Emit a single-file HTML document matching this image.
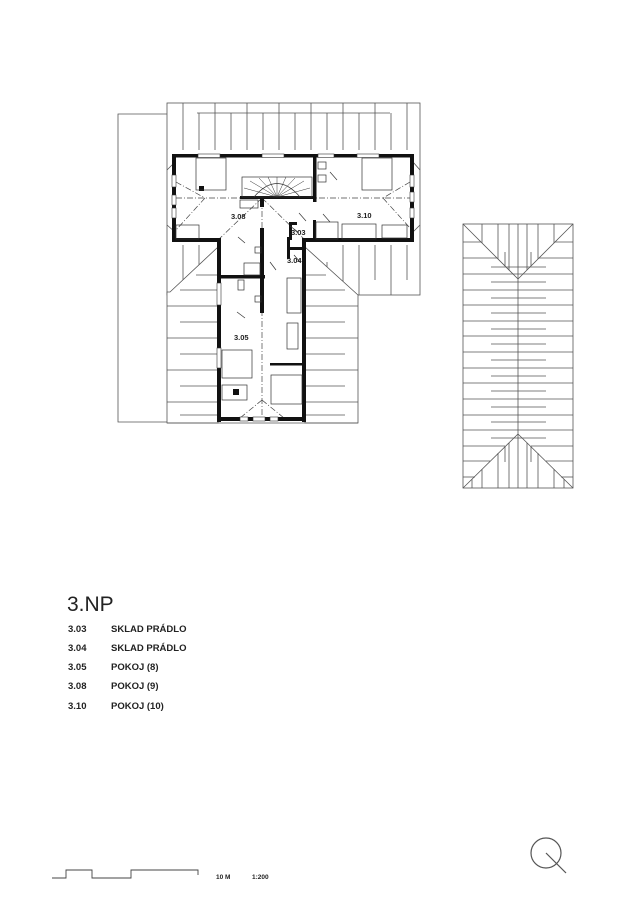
<!DOCTYPE html>
<html><head><meta charset="utf-8"><style>
html,body{margin:0;padding:0;background:#fff}
svg{display:block}
text{font-family:"Liberation Sans",sans-serif;fill:#222}
</style></head><body>
<svg width="635" height="917" viewBox="0 0 635 917" xmlns="http://www.w3.org/2000/svg">
<g fill="none" stroke="#555" stroke-width="0.8">
<polyline points="167,114 118,114 118,422 167,422"/>
<rect x="167" y="103" width="253" height="192"/>
<line x1="197" y1="113" x2="390" y2="113"/>
<g>
<line x1="183" y1="103" x2="183" y2="150"/><line x1="199" y1="113" x2="199" y2="150"/><line x1="215" y1="103" x2="215" y2="150"/><line x1="231" y1="113" x2="231" y2="150"/><line x1="247" y1="103" x2="247" y2="150"/><line x1="263" y1="113" x2="263" y2="150"/><line x1="279" y1="103" x2="279" y2="150"/><line x1="295" y1="113" x2="295" y2="150"/><line x1="311" y1="103" x2="311" y2="150"/><line x1="327" y1="113" x2="327" y2="150"/><line x1="343" y1="103" x2="343" y2="150"/><line x1="359" y1="113" x2="359" y2="150"/><line x1="375" y1="103" x2="375" y2="150"/><line x1="391" y1="113" x2="391" y2="150"/><line x1="407" y1="103" x2="407" y2="150"/>
</g>
<line x1="183" y1="245" x2="183" y2="280"/><line x1="199" y1="245" x2="199" y2="265"/>
<line x1="327" y1="262" x2="327" y2="295"/><line x1="343" y1="245" x2="343" y2="285"/><line x1="359" y1="245" x2="359" y2="295"/><line x1="375" y1="245" x2="375" y2="280"/><line x1="391" y1="245" x2="391" y2="295"/><line x1="407" y1="245" x2="407" y2="280"/>
<line x1="167" y1="225" x2="175" y2="232"/><line x1="413" y1="232" x2="420" y2="225"/>
<line x1="167" y1="170" x2="175" y2="162"/><line x1="413" y1="162" x2="420" y2="170"/>
<polygon points="170,292 218,247 218,423 167,423 167,292" fill="#fff"/>
<polygon points="305,247 358,295 358,423 305,423" fill="#fff"/>
<line x1="167" y1="423" x2="358" y2="423"/>
<g>
<line x1="196" y1="275" x2="217" y2="275"/><line x1="180" y1="290" x2="217" y2="290"/>
<line x1="167" y1="306" x2="217" y2="306"/><line x1="180" y1="322" x2="217" y2="322"/><line x1="167" y1="338" x2="217" y2="338"/><line x1="180" y1="354" x2="217" y2="354"/><line x1="167" y1="370" x2="217" y2="370"/><line x1="180" y1="386" x2="217" y2="386"/><line x1="167" y1="402" x2="217" y2="402"/><line x1="180" y1="415" x2="217" y2="415"/>
<line x1="306" y1="275" x2="326" y2="275"/><line x1="306" y1="290" x2="345" y2="290"/>
<line x1="306" y1="306" x2="358" y2="306"/><line x1="306" y1="322" x2="345" y2="322"/><line x1="306" y1="338" x2="358" y2="338"/><line x1="306" y1="354" x2="345" y2="354"/><line x1="306" y1="370" x2="358" y2="370"/><line x1="306" y1="386" x2="345" y2="386"/><line x1="306" y1="402" x2="358" y2="402"/><line x1="306" y1="415" x2="345" y2="415"/>
</g>
</g>
<g fill="#fff" stroke="none">
<rect x="172" y="155" width="242" height="87"/>
<rect x="217" y="240" width="89" height="180"/>
</g>
<g stroke="#444" stroke-width="0.7" stroke-dasharray="6,2,1,2" fill="none">
<line x1="176" y1="198" x2="410" y2="198"/>
<line x1="262" y1="200" x2="262" y2="418"/>
<line x1="176" y1="182" x2="205" y2="198"/><line x1="205" y1="198" x2="176" y2="230"/>
<line x1="410" y1="182" x2="383" y2="198"/><line x1="383" y1="198" x2="410" y2="228"/>
<line x1="262" y1="198" x2="218" y2="240"/><line x1="262" y1="198" x2="305" y2="240"/>
<line x1="262" y1="400" x2="240" y2="418"/><line x1="262" y1="400" x2="284" y2="418"/>
</g>
<g fill="#111" stroke="none">
<rect x="172" y="154" width="242" height="3.5"/>
<rect x="172" y="154" width="4" height="88"/>
<rect x="410" y="154" width="4" height="88"/>
<rect x="172" y="238" width="47" height="4"/>
<rect x="304" y="238" width="110" height="4"/>
<rect x="217" y="238" width="4" height="184"/>
<rect x="302" y="238" width="4" height="184"/>
<rect x="217" y="417" width="89" height="4"/>
<rect x="313" y="155" width="3.5" height="47"/>
<rect x="240" y="196" width="75" height="3"/>
<rect x="260" y="197" width="4" height="10"/>
<rect x="260" y="228" width="4" height="85"/>
<rect x="217" y="275" width="48" height="3.5"/>
<rect x="289" y="222" width="3" height="18"/>
<rect x="289" y="222" width="8" height="3"/>
<rect x="313" y="220" width="3" height="20"/>
<rect x="287" y="247" width="19" height="3"/>
<rect x="287" y="237" width="3" height="22"/>
<rect x="270" y="363" width="32" height="2.5"/>
<rect x="199" y="186" width="5" height="5"/>
<rect x="233" y="389" width="6" height="6"/>
</g>
<g fill="#fff" stroke="#333" stroke-width="0.6">
<rect x="198" y="154" width="22" height="3.5"/><rect x="262" y="154" width="22" height="3.5"/><rect x="318" y="154" width="16" height="3.5"/><rect x="357" y="154" width="22" height="3.5"/>
<rect x="172" y="175" width="4" height="12"/><rect x="172" y="195" width="4" height="10"/><rect x="172" y="208" width="4" height="10"/>
<rect x="410" y="175" width="4" height="12"/><rect x="410" y="192" width="4" height="10"/><rect x="410" y="208" width="4" height="10"/>
<rect x="217" y="283" width="4" height="22"/><rect x="217" y="348" width="4" height="20"/>
<rect x="240" y="417" width="8" height="4"/><rect x="253" y="417" width="12" height="4"/><rect x="270" y="417" width="8" height="4"/>
</g>
<g fill="none" stroke="#333" stroke-width="0.7">
<rect x="196" y="158" width="30" height="32"/>
<rect x="362" y="158" width="30" height="32"/>
<rect x="242" y="177" width="70" height="20"/>
<path d="M254,197 Q277,170 300,197"/>
<g stroke-width="0.5">
<line x1="277" y1="197" x2="277" y2="177"/><line x1="277" y1="197" x2="268" y2="177"/><line x1="277" y1="197" x2="286" y2="177"/><line x1="277" y1="197" x2="259" y2="178"/><line x1="277" y1="197" x2="295" y2="178"/><line x1="277" y1="197" x2="250" y2="181"/><line x1="277" y1="197" x2="304" y2="181"/><line x1="277" y1="197" x2="244" y2="188"/><line x1="277" y1="197" x2="310" y2="188"/>
</g>
<rect x="176" y="225" width="23" height="14"/>
<rect x="342" y="224" width="34" height="15"/>
<rect x="382" y="225" width="25" height="13"/>
<rect x="316" y="222" width="22" height="17"/>
<rect x="318" y="162" width="8" height="7"/><rect x="318" y="175" width="8" height="7"/>
<rect x="240" y="200" width="18" height="8"/>
<rect x="255" y="247" width="6" height="6"/><rect x="244" y="263" width="16" height="12"/>
<rect x="238" y="280" width="6" height="10"/><rect x="255" y="296" width="6" height="6"/>
<rect x="287" y="278" width="14" height="35"/>
<rect x="287" y="323" width="11" height="26"/>
<rect x="222" y="350" width="30" height="28"/>
<rect x="271" y="375" width="31" height="29"/>
<rect x="222" y="385" width="25" height="15"/>
<line x1="330" y1="172" x2="337" y2="180"/><line x1="299" y1="213" x2="306" y2="221"/><line x1="323" y1="214" x2="330" y2="222"/><line x1="294" y1="255" x2="300" y2="262"/><line x1="270" y1="262" x2="276" y2="270"/><line x1="237" y1="312" x2="245" y2="318"/><line x1="290" y1="226" x2="298" y2="232"/><line x1="238" y1="237" x2="245" y2="243"/>
</g>
<g font-size="7.5" font-weight="bold">
<text x="231" y="219">3.08</text>
<text x="357" y="218">3.10</text>
<text x="291" y="235">3.03</text>
<text x="287" y="263">3.04</text>
<text x="234" y="340">3.05</text>
</g>
<g fill="none" stroke="#555" stroke-width="0.8">
<rect x="463" y="224" width="110" height="264"/>
<line x1="463" y1="224" x2="518" y2="279"/><line x1="573" y1="224" x2="518" y2="279"/>
<line x1="463" y1="488" x2="518" y2="434"/><line x1="573" y1="488" x2="518" y2="434"/>
<line x1="518" y1="279" x2="518" y2="488"/><line x1="518" y1="224" x2="518" y2="279"/>
<line x1="482" y1="224" x2="482" y2="243"/><line x1="498" y1="224" x2="498" y2="259"/><line x1="509" y1="224" x2="509" y2="270"/><line x1="527" y1="224" x2="527" y2="270"/><line x1="538" y1="224" x2="538" y2="259"/><line x1="554" y1="224" x2="554" y2="243"/>
<line x1="505" y1="252" x2="505" y2="266"/><line x1="531" y1="252" x2="531" y2="266"/>
<line x1="463" y1="242" x2="481" y2="242"/><line x1="555" y1="242" x2="573" y2="242"/>
<line x1="463" y1="258" x2="497" y2="258"/><line x1="539" y1="258" x2="573" y2="258"/>
<line x1="491" y1="267" x2="546" y2="267"/>
<g>
<line x1="463" y1="274" x2="573" y2="274"/><line x1="463" y1="290" x2="573" y2="290"/><line x1="463" y1="305" x2="573" y2="305"/><line x1="463" y1="321" x2="573" y2="321"/><line x1="463" y1="336" x2="573" y2="336"/><line x1="463" y1="352" x2="573" y2="352"/><line x1="463" y1="368" x2="573" y2="368"/><line x1="463" y1="383" x2="573" y2="383"/><line x1="463" y1="399" x2="573" y2="399"/><line x1="463" y1="415" x2="573" y2="415"/><line x1="463" y1="430" x2="573" y2="430"/>
<line x1="491" y1="282" x2="546" y2="282"/><line x1="491" y1="298" x2="546" y2="298"/><line x1="491" y1="313" x2="546" y2="313"/><line x1="491" y1="329" x2="546" y2="329"/><line x1="491" y1="344" x2="546" y2="344"/><line x1="491" y1="360" x2="546" y2="360"/><line x1="491" y1="376" x2="546" y2="376"/><line x1="491" y1="391" x2="546" y2="391"/><line x1="491" y1="407" x2="546" y2="407"/><line x1="491" y1="422" x2="546" y2="422"/><line x1="491" y1="438" x2="546" y2="438"/>
</g>
<line x1="463" y1="446" x2="505" y2="446"/><line x1="531" y1="446" x2="573" y2="446"/>
<line x1="463" y1="461" x2="490" y2="461"/><line x1="546" y1="461" x2="573" y2="461"/>
<line x1="463" y1="477" x2="475" y2="477"/><line x1="561" y1="477" x2="573" y2="477"/>
<line x1="509" y1="443" x2="509" y2="488"/><line x1="527" y1="443" x2="527" y2="488"/><line x1="498" y1="453" x2="498" y2="488"/><line x1="538" y1="453" x2="538" y2="488"/><line x1="482" y1="469" x2="482" y2="488"/><line x1="554" y1="469" x2="554" y2="488"/><line x1="472" y1="479" x2="472" y2="488"/><line x1="564" y1="479" x2="564" y2="488"/>
<line x1="505" y1="446" x2="505" y2="462"/><line x1="531" y1="446" x2="531" y2="462"/>
</g>
<text x="67" y="611" font-size="21">3.NP</text>
<g font-size="9.5" font-weight="bold" fill="#222">
<text x="68" y="632">3.03</text><text x="111" y="632">SKLAD PRÁDLO</text>
<text x="68" y="651">3.04</text><text x="111" y="651">SKLAD PRÁDLO</text>
<text x="68" y="670">3.05</text><text x="111" y="670">POKOJ (8)</text>
<text x="68" y="689">3.08</text><text x="111" y="689">POKOJ (9)</text>
<text x="68" y="709">3.10</text><text x="111" y="709">POKOJ (10)</text>
</g>
<polyline points="52,878 66,878 66,870 92,870 92,878 131,878 131,870 198,870 198,875" fill="none" stroke="#444" stroke-width="0.9"/>
<text x="216" y="879" font-size="6.5" font-weight="bold">10 M</text>
<text x="252" y="879" font-size="6.5" font-weight="bold">1:200</text>
<circle cx="546" cy="853" r="15" fill="none" stroke="#555" stroke-width="1.2"/>
<line x1="546" y1="853" x2="566" y2="873" stroke="#555" stroke-width="1.2"/>
</svg>
</body></html>
